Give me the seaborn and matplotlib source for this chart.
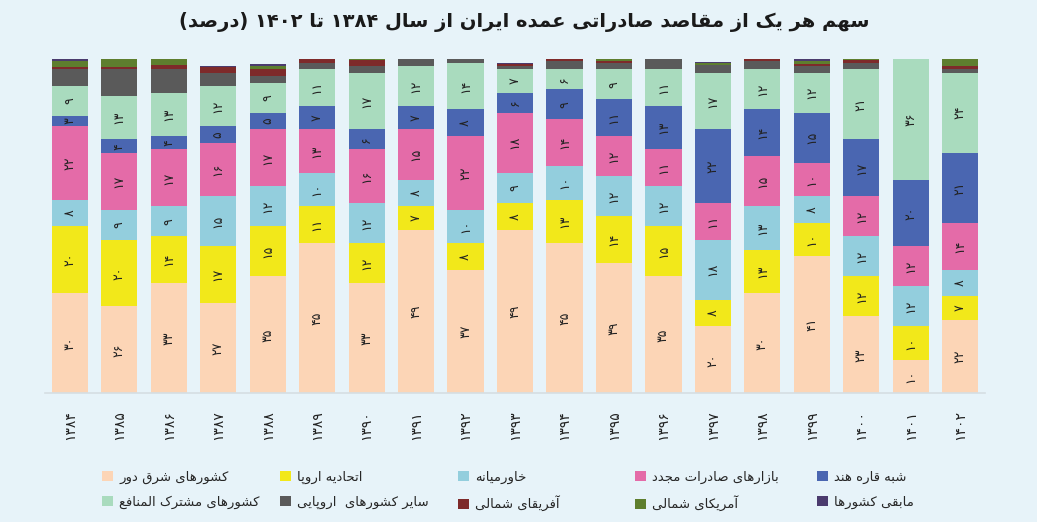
import re
import numpy as np
import pandas as pd
import seaborn as sns
import matplotlib.pyplot as plt
from matplotlib.patches import Patch

# ---- data (percent share of each destination)
years = list(range(1384, 1403))
categories = ["کشورهای شرق دور", "اتحادیه اروپا", "خاورمیانه", "بازارهای صادرات مجدد",
              "شبه قاره هند", "کشورهای مشترک المنافع", "سایر کشورهای  اروپایی",
              "آفریقای شمالی", "آمریکای شمالی", "مابقی کشورها"]
far_east = [30, 26, 33, 27, 35, 45, 33, 49, 37, 49, 45, 39, 35, 20, 30, 41, 23, 10, 22]
eu = [20, 20, 14, 17, 15, 11, 12, 7, 8, 8, 13, 14, 15, 8, 13, 10, 12, 10, 7]
middle_east = [8, 9, 9, 15, 12, 10, 12, 8, 10, 9, 10, 12, 12, 18, 13, 8, 12, 12, 8]
reexport = [22, 17, 17, 16, 17, 13, 16, 15, 22, 18, 14, 12, 11, 11, 15, 10, 12, 12, 14]
india = [3, 4, 4, 5, 5, 7, 6, 7, 8, 6, 9, 11, 13, 22, 14, 15, 17, 20, 21]
cis = [9, 13, 13, 12, 9, 11, 17, 12, 14, 7, 6, 9, 11, 17, 12, 12, 21, 36, 24]
other_europe = [5, 8, 7, 3.9, 2, 2, 2, 2.2, 1, 1, 2.5, 2, 3.2, 2.2, 2.5, 2, 2, 0, 1.2]
north_africa = [0.6, 0.7, 1.2, 1.9, 2, 1.2, 1.7, 0, 0, 0.7, 0.7, 0.5, 0, 0, 0.5, 0.7, 0.7, 0, 0.7]
north_america = [2, 2.5, 2, 0, 1, 0, 0.5, 0, 0, 0, 0, 0.7, 0, 0.8, 0.3, 0.8, 0.5, 0, 2.3]
rest = [0.5, 0, 0, 0.3, 0.7, 0, 0, 0, 0, 0.3, 0, 0, 0, 0.3, 0, 0.7, 0, 0, 0]
series = [far_east, eu, middle_east, reexport, india, cis,
          other_europe, north_africa, north_america, rest]
colors = ["#FCD5B6", "#F2E81A", "#93CEDD", "#E46BA8", "#4A66B1",
          "#A9DBBE", "#5A5A5A", "#7E2A2A", "#5E7E2E", "#4B3B6E"]
n_labeled = 6   # only the big groups carry numbers

# ---- tiny persian shaper (matplotlib has no bidi / joining)
FORMS = {
    'ا': ('\uFE8D', '\uFE8E', None, None), 'آ': ('\uFE81', '\uFE82', None, None),
    'ب': ('\uFE8F', '\uFE90', '\uFE91', '\uFE92'), 'پ': ('\uFB56', '\uFB57', '\uFB58', '\uFB59'),
    'ت': ('\uFE95', '\uFE96', '\uFE97', '\uFE98'), 'ج': ('\uFE9D', '\uFE9E', '\uFE9F', '\uFEA0'),
    'ح': ('\uFEA1', '\uFEA2', '\uFEA3', '\uFEA4'), 'خ': ('\uFEA5', '\uFEA6', '\uFEA7', '\uFEA8'),
    'د': ('\uFEA9', '\uFEAA', None, None), 'ر': ('\uFEAD', '\uFEAE', None, None),
    'ز': ('\uFEAF', '\uFEB0', None, None), 'س': ('\uFEB1', '\uFEB2', '\uFEB3', '\uFEB4'),
    'ش': ('\uFEB5', '\uFEB6', '\uFEB7', '\uFEB8'), 'ص': ('\uFEB9', '\uFEBA', '\uFEBB', '\uFEBC'),
    'ع': ('\uFEC9', '\uFECA', '\uFECB', '\uFECC'), 'ف': ('\uFED1', '\uFED2', '\uFED3', '\uFED4'),
    'ق': ('\uFED5', '\uFED6', '\uFED7', '\uFED8'), 'ک': ('\uFB8E', '\uFB8F', '\uFB90', '\uFB91'),
    'ل': ('\uFEDD', '\uFEDE', '\uFEDF', '\uFEE0'), 'م': ('\uFEE1', '\uFEE2', '\uFEE3', '\uFEE4'),
    'ن': ('\uFEE5', '\uFEE6', '\uFEE7', '\uFEE8'), 'و': ('\uFEED', '\uFEEE', None, None),
    'ه': ('\uFEE9', '\uFEEA', '\uFEEB', '\uFEEC'), 'ی': ('\uFBFC', '\uFBFD', '\uFBFE', '\uFBFF'),
}


def fa(text):
    out = []
    for i, ch in enumerate(text):
        if ch not in FORMS:
            out.append(ch)
            continue
        prev = text[i - 1] if i > 0 else None
        nxt = text[i + 1] if i + 1 < len(text) else None
        jp = prev in FORMS and FORMS[prev][2] is not None
        jn = nxt in FORMS and FORMS[ch][2] is not None
        iso, fin, ini, med = FORMS[ch]
        out.append(med if (jp and jn) else fin if jp else ini if jn else iso)
    s = ''.join(out)[::-1]
    s = re.sub(r'[0-9\u06F0-\u06F9]+', lambda m: m.group(0)[::-1], s)
    return s.translate(str.maketrans('()', ')('))


def fa_num(n):
    return str(n).translate(str.maketrans('0123456789', '۰۱۲۳۴۵۶۷۸۹'))


# ---- long table for seaborn
rows = []
for cat, vals in zip(categories, series):
    for i, v in enumerate(vals):
        rows.append({"pos": i, "cat": cat, "val": v})
df = pd.DataFrame(rows)

sns.set_theme(style="white")
plt.rcParams['font.family'] = ['DejaVu Sans']
bg = "#E7F3F9"

fig = plt.figure(figsize=(10.37, 5.22), dpi=100, facecolor=bg)
ax = fig.add_axes([0.0434, 0.2466, 0.9065, 0.6398])
ax.set_facecolor(bg)

# histplot stacks the first hue level on top, so feed it reversed
sns.histplot(data=df, x="pos", hue="cat", weights="val", discrete=True,
             multiple="stack", shrink=0.73, hue_order=categories[::-1],
             palette=dict(zip(categories, colors)), linewidth=0, alpha=1,
             legend=False, ax=ax)

bottom = np.zeros(len(years))
for k in range(n_labeled):
    vals = np.array(series[k], dtype=float)
    for i, v in enumerate(vals):
        ax.text(i, bottom[i] + v / 2, fa_num(int(round(v))), rotation=90,
                ha="center", va="center", fontsize=9, color="#222222")
    bottom += vals

ax.set_xlim(-0.5, len(years) - 0.5)
ax.set_ylim(0, 100)
ax.set_xticks(range(len(years)))
ax.set_xticklabels([fa_num(y) for y in years], rotation=90, fontsize=10, color="#222222")
ax.tick_params(axis="x", length=0, pad=12)
ax.set_yticks([])
ax.set_xlabel("")
ax.set_ylabel("")
for side in ["top", "left", "right"]:
    ax.spines[side].set_visible(False)
ax.spines["bottom"].set_color("#D5DEE3")
ax.spines["bottom"].set_linewidth(1.2)

fig.text(0.506, 0.958, fa("سهم هر یک از مقاصد صادراتی عمده ایران از سال ۱۳۸۴ تا ۱۴۰۲ (درصد)"),
         ha="center", va="center", fontsize=14, fontweight="bold", color="#1a1a1a")

# legend: five little columns of two entries, like the original
col_x = [102, 280, 458, 635, 817]
for c in range(5):
    idx = [c, c + 5]
    handles = [Patch(facecolor=colors[j], edgecolor="none") for j in idx]
    labels = [fa(categories[j]) for j in idx]
    fig.legend(handles, labels, loc="upper left", bbox_to_anchor=(col_x[c] / 1037, 1 - 471 / 522),
               frameon=False, fontsize=9.5, handlelength=0.8, handleheight=0.8,
               handletextpad=0.5, labelspacing=0.85, borderpad=0, borderaxespad=0)

fig.savefig("out.png", dpi=100, facecolor=bg)
